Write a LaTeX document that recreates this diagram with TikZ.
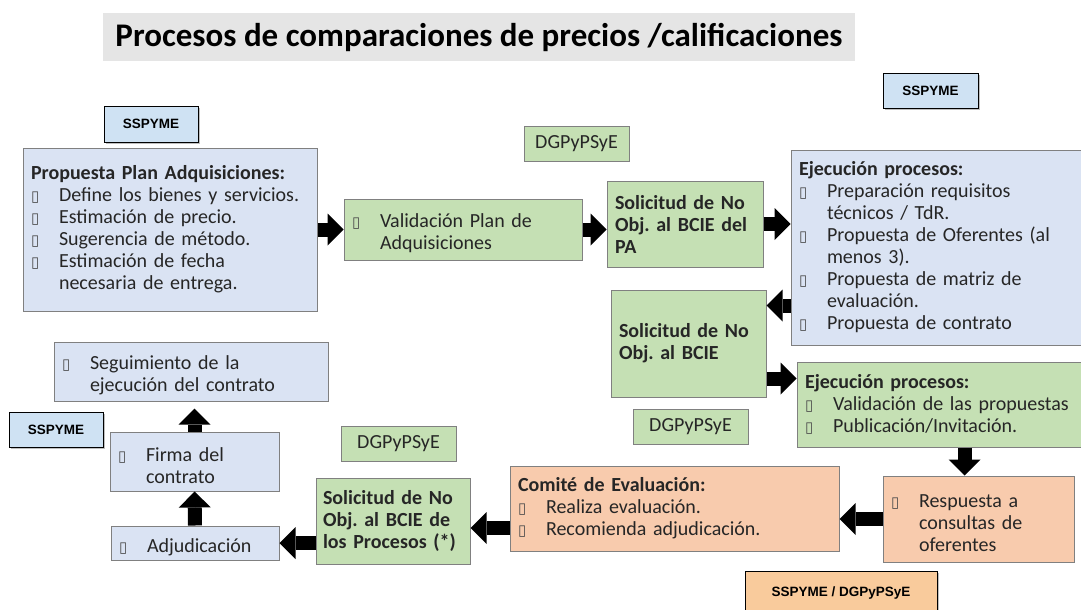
\documentclass[tikz,border=0pt]{standalone}
\usepackage{fontspec}
\setmainfont{Carlito}
\newfontfamily\tagfont{Liberation Sans}
\newfontfamily\symfont{DejaVu Sans}
\usetikzlibrary{
    arrows.meta,
    positioning,
    calc,
    shadows
}
\definecolor{box blue}{HTML}{DAE3F3}
\definecolor{box green}{HTML}{C5E0B4}
\definecolor{box orange}{HTML}{F8CBAD}
\definecolor{tag blue}{HTML}{CFE2F3}
\definecolor{tag orange}{HTML}{F9CB9C}
\frenchspacing
\newcommand{\bodyfont}{\fontsize{20}{22}\selectfont}
\newcommand{\bx}{{\symfont\fontsize{15}{15}\selectfont\color{black!70}\char"25AF}}
\newcommand{\itm}[1]{\par\noindent\hangindent=28pt\hangafter=1\makebox[28pt][l]{\bx}#1\par}
\tikzset{
    % Boxes
    box/.style={draw=black!50,line width=1pt,inner xsep=8pt,inner ysep=4pt,
        align=left,font=\bodyfont,text=black!85,drop shadow={shadow xshift=1pt,shadow yshift=-1pt,opacity=.25}},
    blue box/.style={box,fill=box blue},
    green box/.style={box,fill=box green},
    orange box/.style={box,fill=box orange},
    %
    % Labels of the units
    tag box/.style={draw=black,line width=1pt,fill=tag blue,font=\tagfont\fontsize{13.5}{15}\selectfont\bfseries,
        drop shadow={shadow xshift=1.5pt,shadow yshift=-1.5pt,opacity=.5}},
    unit box/.style={draw=black!50,line width=1pt,fill=box green,font=\bodyfont,text=black!85},
    title box/.style={fill=black!10,font=\fontsize{33}{36}\selectfont\bfseries},
    %
    % Arrows
    block arrow/.style={line width=14pt,-{Triangle[width=32pt,length=16pt,line width=0pt]},black},
}

\begin{document}
\begin{tikzpicture}[x=1pt,y=-1pt]
    \useasboundingbox (0,0) rectangle (1081,610);
    \node[title box,minimum width=752pt,minimum height=48pt] (title) at (479,37) {Procesos de comparaciones de precios /calificaciones};

    % first row
    \node[tag box,minimum width=94pt,minimum height=36pt] (sspA) at (151,124) {SSPYME};
    \node[blue box,minimum width=294pt,minimum height=163pt,text width=278pt] (plan) at (170,229.5) {\textbf{Propuesta Plan Adquisiciones:}
        \itm{Define los bienes y servicios.}
        \itm{Estimación de precio.}
        \itm{Sugerencia de método.}
        \itm{Estimación de fecha\newline necesaria de entrega.}};
    \node[green box,minimum width=238pt,minimum height=61pt,text width=222pt] (valid) at (463,229.5) {\itm{Validación Plan de\newline Adquisiciones}};
    \node[unit box,minimum width=105pt,minimum height=35pt] (dgpA) at (576.5,143.5) {DGPyPSyE};
    \node[green box,minimum width=156pt,minimum height=86pt,text width=140pt] (noobjPA) at (685,224) {\textbf{Solicitud de No\\ Obj. al BCIE del\\ PA}};
    \node[tag box,minimum width=95pt,minimum height=35pt] (sspB) at (930.5,90.5) {SSPYME};
    \node[blue box,minimum width=299pt,minimum height=195pt,text width=283pt] (ejecA) at (940.5,247.5) {\textbf{Ejecución procesos:}
        \itm{Preparación requisitos\newline técnicos / TdR.}
        \itm{Propuesta de Oferentes (al\newline menos 3).}
        \itm{Propuesta de matriz de\newline evaluación.}
        \itm{Propuesta de contrato}};

    % right side
    \node[green box,minimum width=155pt,minimum height=107pt,text width=139pt] (noobj) at (688.5,343.5) {\textbf{Solicitud de No\\ Obj. al BCIE}};
    \node[green box,minimum width=293pt,minimum height=85pt,text width=277pt] (ejecB) at (943.5,404.5) {\textbf{Ejecución procesos:}
        \itm{Validación de las propuestas}
        \itm{Publicación/Invitación.}};
    \node[unit box,minimum width=115pt,minimum height=35pt] (dgpB) at (690.5,426.5) {DGPyPSyE};
    \node[orange box,minimum width=191pt,minimum height=86pt,text width=175pt] (resp) at (978.5,519) {\itm{Respuesta a\newline consultas de\newline oferentes}};
    \node[tag box,fill=tag orange,minimum width=192pt,minimum height=44pt] (sspC) at (841,593) {SSPYME / DGPyPSyE};

    % bottom row
    \node[orange box,minimum width=329pt,minimum height=85pt,text width=313pt] (comite) at (674.5,508.5) {\textbf{Comité de Evaluación:}
        \itm{Realiza evaluación.}
        \itm{Recomienda adjudicación.}};
    \node[green box,minimum width=154pt,minimum height=86pt,text width=140pt,inner xsep=7pt] (noobjP) at (393,521) {\textbf{Solicitud de No\\ Obj. al BCIE de\\ los Procesos (*)}};
    \node[unit box,minimum width=115pt,minimum height=35pt] (dgpC) at (398.5,443.5) {DGPyPSyE};
    \node[blue box,minimum width=168pt,minimum height=34pt,text width=152pt] (adj) at (195,543) {\itm{Adjudicación}};
    \node[blue box,minimum width=169pt,minimum height=59pt,text width=153pt] (firma) at (194.5,461.5) {\itm{Firma del\newline contrato}};
    \node[blue box,minimum width=274pt,minimum height=59pt,text width=258pt] (segui) at (191,371.5) {\itm{Seguimiento de la\newline ejecución del contrato}};
    \node[tag box,minimum width=94pt,minimum height=35pt] (sspD) at (56,429.5) {SSPYME};

    % arrows
    \draw[block arrow] (plan.east) -- (valid.west);
    \draw[block arrow] (valid.east) -- (valid.east -| noobjPA.west);
    \draw[block arrow] (noobjPA.east) -- (noobjPA.east -| ejecA.west);
    \coordinate (back) at ($(ejecA.south west)+(0,-40)$);
    \draw[block arrow] (back) -- (back -| noobj.east);
    \coordinate (go) at ($(noobj.south east)+(0,-19)$);
    \draw[block arrow] (go) -- (go -| ejecB.west);
    \coordinate (down) at ($(resp.north)+(-14,0)$);
    \draw[block arrow] (down |- ejecB.south) -- (down);
    \draw[block arrow] (resp.west) -- (resp.west -| comite.east);
    \coordinate (left) at ($(noobjP.east)+(0,7)$);
    \draw[block arrow] (left -| comite.west) -- (left);
    \draw[block arrow] (noobjP.west |- adj.east) -- (adj.east);
    \draw[block arrow] (adj.north) -- (firma.south);
    \draw[block arrow,shorten >=7pt] (firma.north) -- (firma.north |- segui.south);
\end{tikzpicture}
\end{document}
